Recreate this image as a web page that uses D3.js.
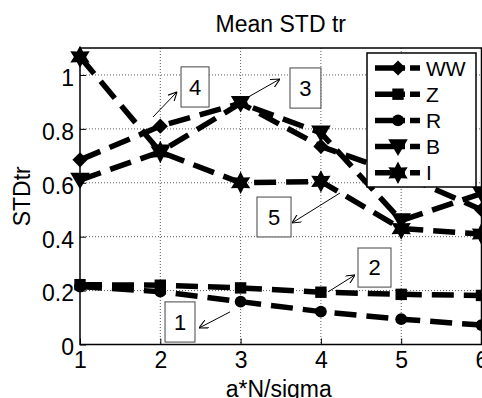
<!DOCTYPE html>
<html>
<head>
<meta charset="utf-8">
<script src="https://cdn.jsdelivr.net/npm/d3@7"></script>
<style>
  body { margin: 0; background: #fff; }
  text { font-family: Arial, "Liberation Sans", sans-serif; fill: #000; }
</style>
</head>
<body>
<svg width="482" height="398"></svg>
<script>
// data
var xVals = [1, 2, 3, 4, 5, 6];
var WW = [0.685, 0.81, 0.895, 0.735, 0.63, 0.50];
var Z  = [0.222, 0.22, 0.21, 0.194, 0.186, 0.182];
var R  = [0.215, 0.196, 0.159, 0.122, 0.094, 0.072];
var B  = [0.61, 0.715, 0.895, 0.785, 0.46, 0.56];
var I  = [1.067, 0.714, 0.60, 0.605, 0.43, 0.41];
var seriesNames = ["WW", "Z", "R", "B", "I"];
var yTicks = [0, 0.2, 0.4, 0.6, 0.8, 1];

// text-arrow annotations (box corners + arrow tail/head, data units)
var noteLabels = ["4", "3", "5", "2", "1"];
var noteBoxes = [[2.258, 1.03, 2.607, 0.881], [3.615, 1.026, 4.0, 0.877], [3.204, 0.547, 3.628, 0.399],
                 [4.462, 0.358, 4.873, 0.213], [2.059, 0.158, 2.432, 0.009]];
var noteArrows = [[1.909, 0.844, 2.208, 0.937], [3.03, 0.907, 3.49, 0.985], [4.238, 0.562, 3.64, 0.451],
                  [4.088, 0.195, 4.425, 0.258], [2.868, 0.121, 2.482, 0.061]];

var svg = d3.select("svg");
var plot = {left: 80, right: 481.5, top: 48, bottom: 344.5};

var x = d3.scaleLinear().domain([1, 6]).range([plot.left, plot.right]);
var y = d3.scaleLinear().domain([0, 1.1]).range([plot.bottom, plot.top]);

// hexagram marker like matlab 'h'
var hexagram = {
  draw: function(ctx, size) {
    var r = Math.sqrt(size / 1.6), ri = r * 0.55;
    for (var i = 0; i < 12; i++) {
      var a = -Math.PI / 2 + i * Math.PI / 6, rr = i % 2 ? ri : r;
      if (i == 0) ctx.moveTo(rr * Math.cos(a), rr * Math.sin(a));
      else ctx.lineTo(rr * Math.cos(a), rr * Math.sin(a));
    }
    ctx.closePath();
  }
};
var triDown = {
  draw: function(ctx, size) {
    var s = Math.sqrt(size) * 0.75;
    ctx.moveTo(-s, -s * 0.75); ctx.lineTo(s, -s * 0.75); ctx.lineTo(0, s * 0.95); ctx.closePath();
  }
};
var diamond = {
  draw: function(ctx, size) {
    var s = Math.sqrt(size) * 0.62;
    ctx.moveTo(0, -s); ctx.lineTo(s, 0); ctx.lineTo(0, s); ctx.lineTo(-s, 0); ctx.closePath();
  }
};
var markers = {WW: [diamond, 150], Z: [d3.symbolSquare, 130], R: [d3.symbolCircle, 110], B: [triDown, 170], I: [hexagram, 200]};
var seriesVals = {WW: WW, Z: Z, R: R, B: B, I: I};

// grid
var grid = svg.append("g");
grid.selectAll(".gx").data(xVals.slice(1, 5)).enter().append("line")
  .attr("x1", d => x(d)).attr("x2", d => x(d)).attr("y1", plot.top).attr("y2", plot.bottom)
  .attr("stroke", "#333").attr("stroke-width", 0.8).attr("stroke-dasharray", "1,2");
grid.selectAll(".gy").data(yTicks.slice(1)).enter().append("line")
  .attr("x1", plot.left).attr("x2", plot.right).attr("y1", d => y(d)).attr("y2", d => y(d))
  .attr("stroke", "#333").attr("stroke-width", 0.8).attr("stroke-dasharray", "1,2");

// axes
var xAxis = d3.axisBottom(x).tickValues(xVals).tickSize(-6).tickPadding(11).tickFormat(d3.format("d"));
var yAxis = d3.axisLeft(y).tickValues(yTicks).tickSize(-6).tickPadding(6).tickFormat(d => d == 0 ? "0" : d == 1 ? "1" : d3.format(".1f")(d));
var gx = svg.append("g").attr("transform", "translate(0," + plot.bottom + ")").call(xAxis);
var gy = svg.append("g").attr("transform", "translate(" + plot.left + ",0)").call(yAxis);
[gx, gy].forEach(function(g) {
  g.select(".domain").remove();
  g.selectAll("line").attr("stroke", "#000").attr("stroke-width", 1);
  g.selectAll("text").style("font-size", "23px").attr("fill", "#000").style("font-family", "Arial, 'Liberation Sans', sans-serif");
});
gx.selectAll("text").attr("dy", "0.55em");
gy.selectAll("text").attr("dy", "0.45em");

// box
svg.append("rect").attr("x", plot.left).attr("y", plot.top).attr("width", plot.right - plot.left).attr("height", plot.bottom - plot.top)
  .attr("fill", "none").attr("stroke", "#000").attr("stroke-width", 1.5);

// series
var line = d3.line().x((d, i) => x(xVals[i])).y(d => y(d));
seriesNames.forEach(function(name) {
  var vals = seriesVals[name];
  svg.append("path").attr("d", line(vals)).attr("fill", "none").attr("stroke", "#000")
    .attr("stroke-width", 5.5).attr("stroke-dasharray", "22,10");
  svg.selectAll(".m" + name).data(vals).enter().append("path")
    .attr("transform", (d, i) => "translate(" + x(xVals[i]) + "," + y(d) + ")")
    .attr("d", d3.symbol().type(markers[name][0]).size(markers[name][1]))
    .attr("fill", "#000");
});

// annotations
svg.append("defs").append("marker").attr("id", "ah").attr("viewBox", "0 0 10 10")
  .attr("refX", 10).attr("refY", 5).attr("markerWidth", 9).attr("markerHeight", 9)
  .attr("markerUnits", "userSpaceOnUse").attr("orient", "auto")
  .append("path").attr("d", "M0,0 L10,5 L0,10").attr("fill", "none").attr("stroke", "#000").attr("stroke-width", 1.2);
noteLabels.forEach(function(lab, i) {
  var b = noteBoxes[i], a = noteArrows[i];
  svg.append("line").attr("x1", x(a[0])).attr("y1", y(a[1])).attr("x2", x(a[2])).attr("y2", y(a[3]))
    .attr("stroke", "#000").attr("stroke-width", 1).attr("marker-end", "url(#ah)");
  svg.append("rect").attr("x", x(b[0])).attr("y", y(b[1])).attr("width", x(b[2]) - x(b[0])).attr("height", y(b[3]) - y(b[1]))
    .attr("fill", "#fff").attr("stroke", "#444").attr("stroke-width", 1);
  svg.append("text").attr("x", (x(b[0]) + x(b[2])) / 2).attr("y", (y(b[1]) + y(b[3])) / 2)
    .attr("text-anchor", "middle").attr("dy", "0.36em").style("font-size", "22px").text(lab);
});

// legend
var lg = svg.append("g");
lg.append("rect").attr("x", 367).attr("y", 53).attr("width", 109).attr("height", 134)
  .attr("fill", "#fff").attr("stroke", "#000").attr("stroke-width", 1.5);
seriesNames.forEach(function(name, i) {
  var cy = 68 + i * 26.2;
  lg.append("line").attr("x1", 375).attr("x2", 420).attr("y1", cy).attr("y2", cy)
    .attr("stroke", "#000").attr("stroke-width", 5.5).attr("stroke-dasharray", "30,5");
  lg.append("path").attr("transform", "translate(398," + cy + ")")
    .attr("d", d3.symbol().type(markers[name][0]).size(markers[name][1])).attr("fill", "#000");
  lg.append("text").attr("x", 426).attr("y", cy).attr("dy", "0.36em").style("font-size", "21px").text(name);
});

// titles
svg.append("text").attr("x", (plot.left + plot.right) / 2).attr("y", 32).attr("text-anchor", "middle")
  .style("font-size", "23px").text("Mean STD tr");
svg.append("text").attr("x", (plot.left + plot.right) / 2 - 2).attr("y", 397).attr("text-anchor", "middle")
  .style("font-size", "23px").text("a*N/sigma");
svg.append("text").attr("transform", "translate(30," + ((plot.top + plot.bottom) / 2) + ") rotate(-90)")
  .attr("text-anchor", "middle").style("font-size", "23px").text("STDtr");
</script>
</body>
</html>
